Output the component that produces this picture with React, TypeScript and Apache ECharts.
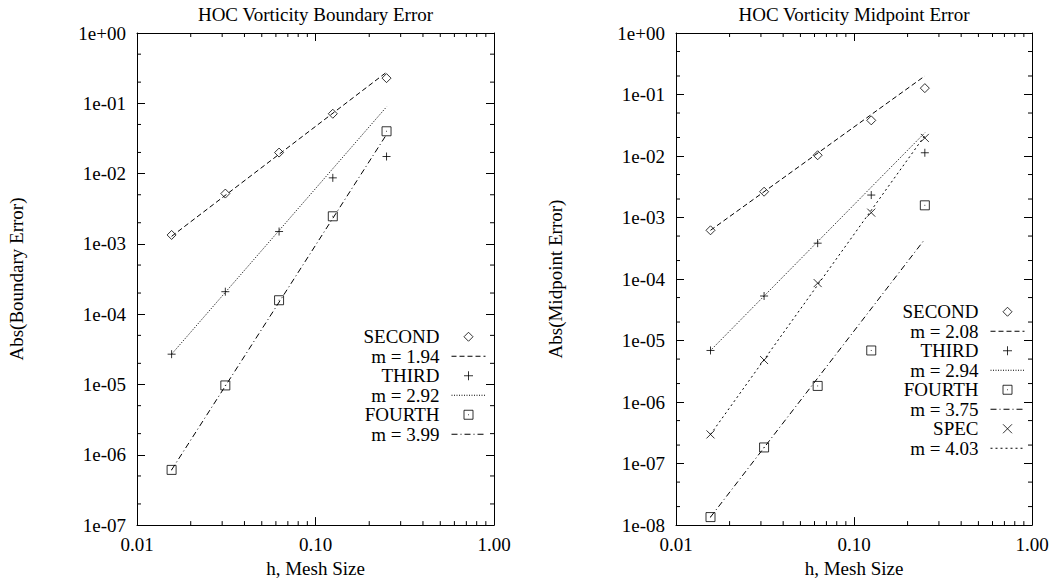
import React, { useEffect, useRef } from "react";
import * as echarts from "echarts";

// ---- data ----
const hValues = [0.015625, 0.03125, 0.0625, 0.125, 0.25];
const hFitEnds = [0.015625, 0.25];

// Boundary error (left panel)
const bSecond = [1.34e-3, 5.2e-3, 0.0199, 0.071, 0.228];
const bThird = [2.7e-5, 2.09e-4, 1.5e-3, 8.7e-3, 0.0175];
const bFourth = [6.1e-7, 9.7e-6, 1.58e-4, 2.47e-3, 0.04];
const bSecondFit = [1.28e-3, 0.277];
const bThirdFit = [2.7e-5, 0.089];
const bFourthFit = [6.1e-7, 0.036];

// Midpoint error (right panel)
const mSecond = [6.2e-4, 2.63e-3, 0.0103, 0.038, 0.127];
const mThird = [6.9e-6, 5.3e-5, 3.83e-4, 2.32e-3, 0.0113];
const mFourth = [1.35e-8, 1.83e-7, 1.83e-6, 6.9e-6, 1.58e-3];
const mSpec = [2.98e-7, 4.82e-6, 8.6e-5, 1.2e-3, 0.0197];
const mSecondFit = [6.2e-4, 0.2];
const mThirdFit = [6.9e-6, 0.0239];
const mFourthFit = [1.35e-8, 4.45e-4];
const mSpecFit = [2.98e-7, 0.0215];

const leftLegend = ["SECOND", "m = 1.94", "THIRD", "m = 2.92", "FOURTH", "m = 3.99"];
const rightLegend = ["SECOND", "m = 2.08", "THIRD", "m = 2.94", "FOURTH", "m = 3.75", "SPEC", "m = 4.03"];

// ---- ticks ----
const xTickValues = [0.01, 0.1, 1];
const xTickLabels = ["0.01", "0.10", "1.00"];
const yLeftTickLabels = ["1e-07", "1e-06", "1e-05", "1e-04", "1e-03", "1e-02", "1e-01", "1e+00"];
const yRightTickLabels = ["1e-08", "1e-07", "1e-06", "1e-05", "1e-04", "1e-03", "1e-02", "1e-01", "1e+00"];
const xMinorMantissas = [2, 3, 4, 5, 6, 7, 8, 9];
const yMinorMantissas = [2, 5];

const FONT = "'Liberation Serif', 'DejaVu Serif', serif";
const FS = 19;

const SYM_DIAMOND = "path://M5,0L10,5L5,10L0,5Z";
const SYM_PLUS = "path://M0,5L10,5M5,0L5,10";
const SYM_CROSS = "path://M0,0L10,10M10,0L0,10";
const SYM_SQUARE = "path://M0,0L10,0L10,10L0,10Z M4.5,5L5.5,5";

function minorValues(decades: number[], mantissas: number[]) {
  const out: number[] = [];
  decades.forEach((d) => mantissas.forEach((m) => out.push(m * d)));
  return out;
}

function xFormatter(v: number) {
  const i = xTickValues.findIndex((t) => Math.abs(Math.log10(t) - Math.log10(v)) < 1e-6);
  return i >= 0 ? xTickLabels[i] : "";
}

function yFormatter(labels: string[], minExp: number) {
  return (v: number) => {
    const e = Math.round(Math.log10(v));
    return labels[e - minExp] ?? "";
  };
}

function pairs(xs: number[], ys: number[]) {
  return xs.map((x, i) => [x, ys[i]]);
}

function App() {
  const ref = useRef<HTMLDivElement>(null);
  useEffect(() => {
    if (!ref.current) return;
    const chart = echarts.init(ref.current, undefined, { renderer: "svg" });

    const grids = [
      { left: 137, top: 33, width: 357, height: 494 },
      { left: 676, top: 33, width: 356, height: 494 },
    ];

    const axisLine = { show: true, onZero: false, lineStyle: { color: "#000", width: 1 } };
    const majorTick = { show: true, inside: true, length: 8, lineStyle: { color: "#000", width: 1 } };
    const labelStyle = { color: "#000", fontFamily: FONT, fontSize: FS };

    const makeX = (gridIndex: number, pos: "bottom" | "top", showLabel: boolean): any => ({
      type: "log",
      logBase: 10,
      gridIndex,
      position: pos,
      min: 0.01,
      max: 1,
      axisLine,
      axisTick: majorTick,
      splitLine: { show: false },
      axisLabel: { show: showLabel, ...labelStyle, margin: 10, formatter: xFormatter },
      name: showLabel ? "h, Mesh Size" : "",
      nameLocation: "middle",
      nameGap: 29,
      nameTextStyle: labelStyle,
    });

    const makeY = (
      gridIndex: number,
      pos: "left" | "right",
      showLabel: boolean,
      minExp: number,
      labels: string[],
      name: string
    ): any => ({
      type: "log",
      logBase: 10,
      gridIndex,
      position: pos,
      min: Math.pow(10, minExp),
      max: 1,
      axisLine,
      axisTick: majorTick,
      splitLine: { show: false },
      axisLabel: { show: showLabel, ...labelStyle, margin: 11, formatter: yFormatter(labels, minExp) },
      name: showLabel ? name : "",
      nameLocation: "middle",
      nameRotate: 90,
      nameGap: 111,
      nameTextStyle: labelStyle,
    });

    const xMinor = minorValues([0.01, 0.1], xMinorMantissas);
    const yMinorLeft = minorValues([1e-7, 1e-6, 1e-5, 1e-4, 1e-3, 1e-2, 1e-1], yMinorMantissas);
    const yMinorRight = minorValues([1e-8, 1e-7, 1e-6, 1e-5, 1e-4, 1e-3, 1e-2, 1e-1], yMinorMantissas);

    const minorTickSeries = (xIdx: number, yIdx: number, yMinor: number[]): any => ({
      type: "custom",
      name: "__ticks" + xIdx,
      xAxisIndex: xIdx,
      yAxisIndex: yIdx,
      silent: true,
      clip: false,
      z: 5,
      data: [...xMinor.map((v) => [v, 0.001, 0]), ...yMinor.map((v) => [0.1, v, 1])],
      renderItem: (params: any, api: any) => {
        const cs = params.coordSys;
        const style = { stroke: "#000", lineWidth: 1, fill: "none" };
        const p = api.coord([api.value(0), api.value(1)]);
        if (api.value(2) === 0) {
          const x = p[0];
          return {
            type: "group",
            children: [
              { type: "line", shape: { x1: x, y1: cs.y + cs.height, x2: x, y2: cs.y + cs.height - 4 }, style },
              { type: "line", shape: { x1: x, y1: cs.y, x2: x, y2: cs.y + 4 }, style },
            ],
          };
        }
        const y = p[1];
        return {
          type: "group",
          children: [
            { type: "line", shape: { x1: cs.x, y1: y, x2: cs.x + 4, y2: y }, style },
            { type: "line", shape: { x1: cs.x + cs.width, y1: y, x2: cs.x + cs.width - 4, y2: y }, style },
          ],
        };
      },
    });

    const markerStyle = { color: "none", borderColor: "#000", borderWidth: 1 };
    const scatter = (name: string, xIdx: number, ys: number[], symbol: string, size: number): any => ({
      type: "scatter",
      name,
      xAxisIndex: xIdx,
      yAxisIndex: xIdx,
      data: pairs(hValues, ys),
      symbol,
      symbolSize: size,
      itemStyle: markerStyle,
      z: 4,
    });
    const fit = (name: string, xIdx: number, ys: number[], dash: number[]): any => ({
      type: "line",
      name,
      xAxisIndex: xIdx,
      yAxisIndex: xIdx,
      data: pairs(hFitEnds, ys),
      symbol: "none",
      showSymbol: false,
      itemStyle: { color: "none", borderWidth: 0 },
      lineStyle: { color: "#000", width: 1, type: dash },
      z: 3,
    });

    const legendItems = (names: string[]) =>
      names.map((n) =>
        n.startsWith("m = ")
          ? { name: n, itemStyle: { opacity: 0, color: "none", borderWidth: 0 }, lineStyle: { width: 1, color: "#000" } }
          : { name: n, itemStyle: { color: "none", borderColor: "#000", borderWidth: 1 } }
      );

    const legendCommon = {
      orient: "vertical",
      align: "right",
      padding: 0,
      itemGap: 0,
      itemWidth: 34,
      itemHeight: 9,
      selectedMode: false,
      symbolKeepAspect: true,
      textStyle: { color: "#000", fontFamily: FONT, fontSize: FS, lineHeight: 19.5, padding: [0, 7, 0, 0] },
    };

    chart.setOption({
      animation: false,
      backgroundColor: "#fff",
      grid: grids,
      xAxis: [makeX(0, "bottom", true), makeX(0, "top", false), makeX(1, "bottom", true), makeX(1, "top", false)],
      yAxis: [
        makeY(0, "left", true, -7, yLeftTickLabels, "Abs(Boundary Error)"),
        makeY(0, "right", false, -7, yLeftTickLabels, ""),
        makeY(1, "left", true, -8, yRightTickLabels, "Abs(Midpoint Error)"),
        makeY(1, "right", false, -8, yRightTickLabels, ""),
      ],
      legend: [
        { ...legendCommon, right: 566, top: 327, data: legendItems(leftLegend) },
        { ...legendCommon, right: 27, top: 302, data: legendItems(rightLegend) },
      ],
      graphic: [
        {
          type: "text",
          x: 315.5,
          y: 14,
          style: { text: "HOC Vorticity Boundary Error", fill: "#000", font: `${FS}px ${FONT}`, align: "center", verticalAlign: "middle" },
        },
        {
          type: "text",
          x: 854,
          y: 14,
          style: { text: "HOC Vorticity Midpoint Error", fill: "#000", font: `${FS}px ${FONT}`, align: "center", verticalAlign: "middle" },
        },
      ],
      series: [
        minorTickSeries(0, 0, yMinorLeft),
        minorTickSeries(2, 2, yMinorRight),
        fit("m = 1.94", 0, bSecondFit, [5, 3]),
        fit("m = 2.92", 0, bThirdFit, [1, 1.5]),
        fit("m = 3.99", 0, bFourthFit, [6, 3, 1, 3]),
        scatter("SECOND", 0, bSecond, SYM_DIAMOND, 9),
        scatter("THIRD", 0, bThird, SYM_PLUS, 8),
        scatter("FOURTH", 0, bFourth, SYM_SQUARE, 9),
        fit("m = 2.08", 2, mSecondFit, [5, 3]),
        fit("m = 2.94", 2, mThirdFit, [1, 1.5]),
        fit("m = 3.75", 2, mFourthFit, [6, 3, 1, 3]),
        fit("m = 4.03", 2, mSpecFit, [2, 3]),
        scatter("SECOND", 2, mSecond, SYM_DIAMOND, 9),
        scatter("THIRD", 2, mThird, SYM_PLUS, 8),
        scatter("FOURTH", 2, mFourth, SYM_SQUARE, 9),
        scatter("SPEC", 2, mSpec, SYM_CROSS, 8),
      ],
    });
    return () => chart.dispose();
  }, []);
  return <div ref={ref} style={{ position: "absolute", left: 0, top: 0, width: 1052, height: 583 }} />;
}

export default App;
